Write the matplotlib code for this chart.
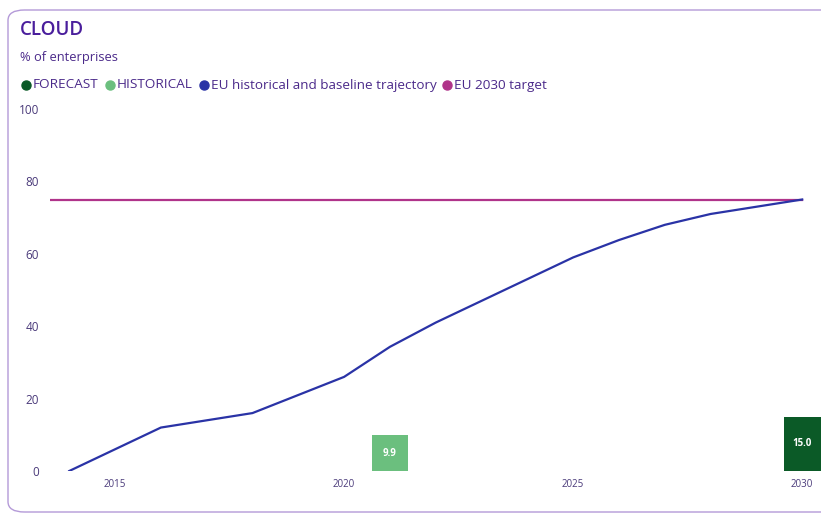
import matplotlib
matplotlib.use("Agg")
import matplotlib.pyplot as plt
from matplotlib.patches import FancyBboxPatch
from matplotlib.lines import Line2D

# ---- data ----
traj_years = [2014, 2016, 2018, 2020, 2021, 2022, 2023, 2024, 2025, 2026, 2027, 2028, 2029, 2030]
traj_values = [0, 12, 16, 26, 34.3, 41, 47, 53, 59, 63.8, 68, 71, 73, 75]
hist_years = [2021]
hist_values = [9.9]
fc_years = [2030]
fc_values = [15.0]
target_value = 75
y_ticks = [0, 20, 40, 60, 80, 100]
x_ticks = [2015, 2020, 2025, 2030]
legend_labels = ["FORECAST", "HISTORICAL", "EU historical and baseline trajectory", "EU 2030 target"]

C_FC = "#0b5a27"
C_HIST = "#6bbf7e"
C_LINE = "#2a33a6"
C_TGT = "#b0348a"
C_TITLE = "#4a1e9c"
C_TEXT = "#4b2a8a"
C_TICK = "#4a3a7a"

plt.rcParams['font.family'] = ['Open Sans', 'DejaVu Sans']

W, H = 821, 517
fig = plt.figure(figsize=(W / 100, H / 100), dpi=100)

# frame
frame = FancyBboxPatch((8 / W, 5 / H), (W + 20) / W, (H - 15) / H,
                       boxstyle="round,pad=0,rounding_size=0.02",
                       transform=fig.transFigure, fill=False,
                       edgecolor="#b49ad8", linewidth=1.0, clip_on=False)
fig.patches.append(frame)

ax_left, ax_right = 50, 821
ax_top, ax_bot = 109, 471
ax = fig.add_axes([ax_left / W, 1 - ax_bot / H, (ax_right - ax_left) / W, (ax_bot - ax_top) / H])
ax.set_xlim(2013.58, 2030.41)
ax.set_ylim(0, 100)
for s in ax.spines.values():
    s.set_visible(False)
ax.set_facecolor("none")

ax.axhline(target_value, color=C_TGT, lw=1.6, xmax=(2030 - 2013.58) / (2030.41 - 2013.58))
ax.plot(traj_years, traj_values, color=C_LINE, lw=1.6)

bw = 0.8
b1 = ax.bar(hist_years, hist_values, width=bw, color=C_HIST, zorder=3)
b2 = ax.bar(fc_years, fc_values, width=bw, color=C_FC, zorder=3)
for bars, vals in ((b1, hist_values), (b2, fc_values)):
    for r, v in zip(bars, vals):
        ax.text(r.get_x() + r.get_width() / 2, v / 2, f"{v:.1f}", ha="center", va="center",
                color="white", fontsize=7, fontweight="bold")

ax.set_yticks(y_ticks)
ax.set_yticklabels([str(t) for t in y_ticks])
ax.set_xticks(x_ticks)
ax.set_xticklabels([str(t) for t in x_ticks])
ax.tick_params(axis="y", length=0, pad=8, labelsize=8.5, labelcolor=C_TICK)
ax.tick_params(axis="x", length=0, pad=6, labelsize=7, labelcolor=C_TICK)

# title and subtitle
fig.text(20 / W, 1 - 30 / H, "CLOUD", fontsize=13.5, color=C_TITLE, va="center", ha="left",
         fontweight="semibold")
fig.text(20 / W, 1 - 57 / H, "% of enterprises", fontsize=9.3, color=C_TEXT, va="center", ha="left")

# legend
colors = [C_FC, C_HIST, C_LINE, C_TGT]
fig.canvas.draw()
r = fig.canvas.get_renderer()
x = 20
ly = 1 - 85 / H
for lab, c in zip(legend_labels, colors):
    fig.add_artist(Line2D([(x + 6) / W], [ly], marker="o", markersize=6.5, color=c,
                          transform=fig.transFigure, linestyle="none"))
    t = fig.text((x + 13) / W, ly, lab, fontsize=9.7, color=C_TEXT, va="center", ha="left")
    bb = t.get_window_extent(renderer=r)
    x = x + 13 + bb.width + 5

fig.savefig("out.png", dpi=100)
